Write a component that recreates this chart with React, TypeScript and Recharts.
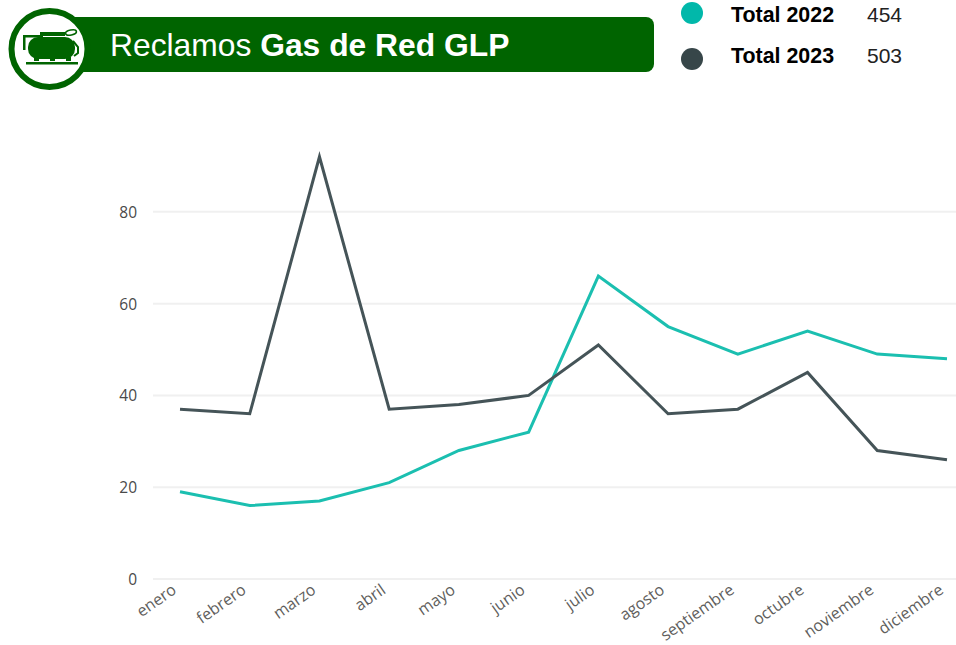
import React from 'react';
import { LineChart, Line, XAxis, YAxis, CartesianGrid } from 'recharts';

const months = ['enero', 'febrero', 'marzo', 'abril', 'mayo', 'junio', 'julio', 'agosto', 'septiembre', 'octubre', 'noviembre', 'diciembre'];
const total2022 = [19, 16, 17, 21, 28, 32, 66, 55, 49, 54, 49, 48];
const total2023 = [37, 36, 92, 37, 38, 40, 51, 36, 37, 45, 28, 26];
const yTicks = [0, 20, 40, 60, 80];

const data = months.map((month, i) => ({
    month,
    total2022: total2022[i],
    total2023: total2023[i],
}));

const GREEN = '#006400';
const TEAL = '#01b8aa';
const SLATE = '#374649';
const TICK_FONT = '"Open Sans", sans-serif';
const HEAD_FONT = '"Liberation Sans", Arial, sans-serif';

const Header = () => (
    <svg width={956} height={100} style={{ position: 'absolute', left: 0, top: 0 }}>
        <rect x={60} y={17} width={594} height={55} rx={8} fill={GREEN} />
        <circle cx={49.5} cy={49} r={38} fill="#fff" stroke={GREEN} strokeWidth={6} />
        {/* tank icon */}
        <g fill={GREEN}>
            <rect x={28} y={37} width={47} height={22} rx={10} />
            <rect x={40} y={32} width={25} height={4} />
            <rect x={23} y={35} width={20} height={2.5} />
            <rect x={23} y={35} width={2.5} height={15} />
            <rect x={34} y={57} width={5} height={4} />
            <rect x={50} y={57} width={5} height={4} />
            <rect x={66} y={57} width={5} height={4} />
            <rect x={26} y={62} width={52} height={2.5} />
        </g>
        <path d="M73 41 L78 47 L78 53 L74 56" fill="none" stroke={GREEN} strokeWidth={2} />
        <ellipse cx={71} cy={32.5} rx={5.5} ry={2.5} transform="rotate(-12 71 32.5)" fill="none" stroke={GREEN} strokeWidth={1.6} />
        <text x={110} y={55.5} fontFamily={HEAD_FONT} fontSize={31.8} fill="#fff">
            Reclamos <tspan fontWeight={700}>Gas de Red GLP</tspan>
        </text>
        <circle cx={692} cy={13} r={11} fill={TEAL} />
        <circle cx={692} cy={59} r={11} fill={SLATE} />
        <text x={731} y={22} fontFamily={HEAD_FONT} fontSize={21.4} fontWeight={700} fill="#000">Total 2022</text>
        <text x={867} y={22} fontFamily={HEAD_FONT} fontSize={21} fill="#222">454</text>
        <text x={731} y={63} fontFamily={HEAD_FONT} fontSize={21.4} fontWeight={700} fill="#000">Total 2023</text>
        <text x={867} y={63} fontFamily={HEAD_FONT} fontSize={21} fill="#222">503</text>
    </svg>
);

export default function App() {
    return (
        <div style={{ position: 'absolute', left: 0, top: 0, width: 956, height: 645, background: '#fff' }}>
            <LineChart
                width={956}
                height={645}
                data={data}
                margin={{ top: 143, right: 0, bottom: 0, left: 0 }}
            >
                <CartesianGrid horizontal vertical={false} horizontalValues={yTicks} stroke="#f0f0f0" strokeWidth={2} />
                <XAxis
                    dataKey="month"
                    interval={0}
                    height={66}
                    padding={{ left: 27, right: 9 }}
                    axisLine={false}
                    tickLine={false}
                    angle={-35}
                    textAnchor="end"
                    tick={{ fill: '#605e5c', fontSize: 16, fontFamily: TICK_FONT, dx: -9, dy: -2 }}
                    tickMargin={0}
                />
                <YAxis
                    width={153}
                    domain={[0, 95]}
                    ticks={yTicks}
                    axisLine={false}
                    tickLine={false}
                    tick={{ fill: '#4a4a4a', fontSize: 15.5, fontFamily: TICK_FONT, dy: 0.5 }}
                    tickMargin={10}
                />
                <Line dataKey="total2022" stroke="#1bbfb0" strokeWidth={3} dot={false} type="linear" isAnimationActive={false} />
                <Line dataKey="total2023" stroke="#455458" strokeWidth={3} dot={false} type="linear" isAnimationActive={false} />
            </LineChart>
            <Header />
        </div>
    );
}
